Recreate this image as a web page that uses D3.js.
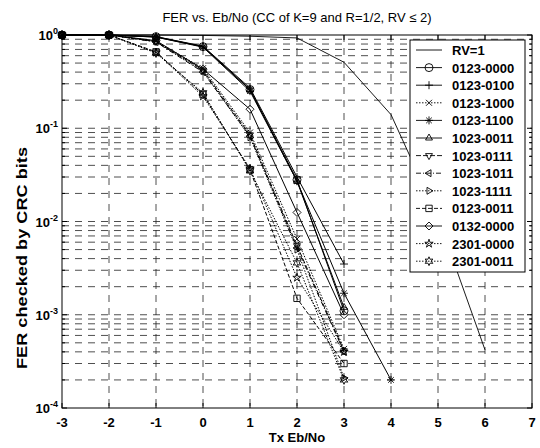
<!DOCTYPE html>
<html>
<head>
<meta charset="utf-8">
<script src="https://cdn.jsdelivr.net/npm/d3@7"></script>
<style>
  body { margin: 0; background: #fff; }
  svg { font-family: "Liberation Sans", Arial, sans-serif; }
</style>
</head>
<body>
<svg id="chart" width="540" height="448"></svg>
<script>
// Eb/No points and FER values
var xRv1 = [-3, -2, -1, 0, 1, 2, 3, 4, 5, 6];
var rv1 = [1, 1, 1, 0.99, 0.97, 0.93, 0.51, 0.14, 0.011, 4.2e-4];

var xs = [-3, -2, -1, 0, 1, 2, 3];
var xs4 = [-3, -2, -1, 0, 1, 2, 3, 4];

var s0123_0000 = [1, 1, 0.96, 0.75, 0.26, 0.028, 1.1e-3];
var s0123_0100 = [1, 1, 0.96, 0.76, 0.27, 0.030, 3.5e-3];
var s0123_1000 = [1, 1, 0.86, 0.44, 0.09, 0.0065, 4.3e-4];
var s0123_1100 = [1, 1, 0.95, 0.74, 0.25, 0.027, 1.7e-3, 2.0e-4];
var s1023_0011 = [1, 1, 0.95, 0.75, 0.26, 0.027, 1.2e-3];
var s1023_0111 = [1, 1, 0.85, 0.42, 0.085, 0.0055, 4.1e-4];
var s1023_1011 = [1, 1, 0.84, 0.40, 0.082, 0.0052, 4.0e-4];
var s1023_1111 = [1, 1, 0.85, 0.41, 0.08, 0.005, 2.1e-4];
var s0123_0011 = [1, 1, 0.66, 0.23, 0.036, 1.5e-3, 3.0e-4];
var s0132_0000 = [1, 1, 0.87, 0.43, 0.16, 0.0125, 1.0e-3];
var s2301_0000 = [1, 1, 0.65, 0.22, 0.037, 2.5e-3, 4.0e-4];
var s2301_0011 = [1, 1, 0.64, 0.24, 0.035, 3.6e-3, 2.0e-4];

var xTicks = [-3, -2, -1, 0, 1, 2, 3, 4, 5, 6, 7];
var yTickExp = [0, -1, -2, -3, -4];

var series = [
  {name: "RV=1", x: xRv1, y: rv1, marker: null, dash: null},
  {name: "0123-0000", x: xs, y: s0123_0000, marker: "circle", dash: null},
  {name: "0123-0100", x: xs, y: s0123_0100, marker: "plus", dash: null},
  {name: "0123-1000", x: xs, y: s0123_1000, marker: "x", dash: "1.5,1.5"},
  {name: "0123-1100", x: xs4, y: s0123_1100, marker: "asterisk", dash: null},
  {name: "1023-0011", x: xs, y: s1023_0011, marker: "triup", dash: null},
  {name: "1023-0111", x: xs, y: s1023_0111, marker: "tridown", dash: "5,2"},
  {name: "1023-1011", x: xs, y: s1023_1011, marker: "trileft", dash: "5,2,1,2"},
  {name: "1023-1111", x: xs, y: s1023_1111, marker: "triright", dash: "1.5,1.5"},
  {name: "0123-0011", x: xs, y: s0123_0011, marker: "square", dash: "4,2"},
  {name: "0132-0000", x: xs, y: s0132_0000, marker: "diamond", dash: null},
  {name: "2301-0000", x: xs, y: s2301_0000, marker: "pentagram", dash: "1.5,1.5"},
  {name: "2301-0011", x: xs, y: s2301_0011, marker: "hexagram", dash: "1.5,1.5"}
];

var svg = d3.select("#chart"),
    margin = {top: 35, right: 8, bottom: 40, left: 62},
    width = +svg.attr("width") - margin.left - margin.right,
    height = +svg.attr("height") - margin.top - margin.bottom;

var x = d3.scaleLinear().domain([-3, 7]).range([margin.left, margin.left + width]);
var y = d3.scaleLog().domain([1e-4, 1]).range([margin.top + height, margin.top]);

// grid
var grid = svg.append("g").attr("stroke", "#222").attr("stroke-width", 0.8)
  .attr("stroke-dasharray", "7,6").attr("fill", "none");
xTicks.slice(1, -1).forEach(function(t) {
  grid.append("line").attr("x1", x(t)).attr("x2", x(t))
    .attr("y1", y(1)).attr("y2", y(1e-4));
});
var yGrid = [];
for (var e = -4; e < 0; e++) {
  for (var m = 1; m < 10; m++) {
    if (e === -4 && m === 1) continue;
    yGrid.push(m * Math.pow(10, e));
  }
}
yGrid.forEach(function(v) {
  grid.append("line").attr("x1", x(-3)).attr("x2", x(7))
    .attr("y1", y(v)).attr("y2", y(v));
});

// axes box and ticks
var axes = svg.append("g").attr("stroke", "#000").attr("stroke-width", 1).attr("fill", "none");
axes.append("rect").attr("x", x(-3)).attr("y", y(1))
  .attr("width", x(7) - x(-3)).attr("height", y(1e-4) - y(1));
xTicks.forEach(function(t) {
  axes.append("line").attr("x1", x(t)).attr("x2", x(t)).attr("y1", y(1e-4)).attr("y2", y(1e-4) - 5);
  axes.append("line").attr("x1", x(t)).attr("x2", x(t)).attr("y1", y(1)).attr("y2", y(1) + 5);
});
yGrid.concat([1, 1e-4]).forEach(function(v) {
  var major = Math.abs(Math.log10(v) - Math.round(Math.log10(v))) < 1e-9;
  var len = major ? 5 : 3;
  axes.append("line").attr("x1", x(-3)).attr("x2", x(-3) + len).attr("y1", y(v)).attr("y2", y(v));
  axes.append("line").attr("x1", x(7)).attr("x2", x(7) - len).attr("y1", y(v)).attr("y2", y(v));
});

// tick labels
svg.append("g").selectAll("text").data(xTicks).enter().append("text")
  .attr("x", function(d) { return x(d); })
  .attr("y", 427)
  .attr("text-anchor", "middle")
  .attr("font-size", 13).attr("font-weight", "bold")
  .text(function(d) { return d; });

var yl = svg.append("g").selectAll("text").data(yTickExp).enter().append("text")
  .attr("x", 58)
  .attr("y", function(d) { return y(Math.pow(10, d)) + 5; })
  .attr("text-anchor", "end")
  .attr("font-size", 13).attr("font-weight", "bold");
yl.append("tspan").text("10");
yl.append("tspan").attr("dy", -6).attr("font-size", 9).text(function(d) { return d === 0 ? "0" : "-" + (-d); });

// titles
svg.append("text").attr("x", (x(-3) + x(7)) / 2).attr("y", 22)
  .attr("text-anchor", "middle").attr("font-size", 13)
  .text("FER vs. Eb/No (CC of K=9 and R=1/2, RV \u2264 2)");
svg.append("text").attr("x", (x(-3) + x(7)) / 2).attr("y", 442)
  .attr("text-anchor", "middle").attr("font-size", 13).attr("font-weight", "bold")
  .text("Tx Eb/No");
svg.append("text").attr("transform", "translate(27,258) rotate(-90)")
  .attr("text-anchor", "middle").attr("font-size", 14).attr("font-weight", "bold")
  .attr("textLength", 222).attr("lengthAdjust", "spacingAndGlyphs")
  .text("FER checked by CRC bits");

// marker paths, unfilled like matlab
function markerPath(type, r) {
  var p = d3.path(), i, a;
  if (type === "circle") { p.moveTo(r, 0); p.arc(0, 0, r, 0, 2 * Math.PI); }
  else if (type === "plus") { p.moveTo(-r, 0); p.lineTo(r, 0); p.moveTo(0, -r); p.lineTo(0, r); }
  else if (type === "x") { var q = r * 0.75; p.moveTo(-q, -q); p.lineTo(q, q); p.moveTo(-q, q); p.lineTo(q, -q); }
  else if (type === "asterisk") {
    p.moveTo(-r, 0); p.lineTo(r, 0); p.moveTo(0, -r); p.lineTo(0, r);
    var k = r * 0.7; p.moveTo(-k, -k); p.lineTo(k, k); p.moveTo(-k, k); p.lineTo(k, -k);
  }
  else if (type === "square") { p.rect(-r * 0.8, -r * 0.8, r * 1.6, r * 1.6); }
  else if (type === "diamond") { p.moveTo(0, -r); p.lineTo(r, 0); p.lineTo(0, r); p.lineTo(-r, 0); p.closePath(); }
  else if (type.indexOf("tri") === 0) {
    var rot = {triup: 0, triright: 90, tridown: 180, trileft: 270}[type] * Math.PI / 180;
    for (i = 0; i < 3; i++) {
      a = rot - Math.PI / 2 + i * 2 * Math.PI / 3;
      if (i === 0) p.moveTo(r * Math.cos(a), r * Math.sin(a)); else p.lineTo(r * Math.cos(a), r * Math.sin(a));
    }
    p.closePath();
  }
  else if (type === "pentagram" || type === "hexagram") {
    var n = type === "pentagram" ? 5 : 6, ri = type === "pentagram" ? r * 0.4 : r * 0.55;
    for (i = 0; i < 2 * n; i++) {
      a = -Math.PI / 2 + i * Math.PI / n;
      var rr = i % 2 ? ri : r * 1.1;
      if (i === 0) p.moveTo(rr * Math.cos(a), rr * Math.sin(a)); else p.lineTo(rr * Math.cos(a), rr * Math.sin(a));
    }
    p.closePath();
  }
  return p.toString();
}

var line = d3.line().x(function(d) { return x(d[0]); }).y(function(d) { return y(d[1]); });

var plot = svg.append("g");
series.forEach(function(s) {
  var pts = s.x.map(function(v, i) { return [v, s.y[i]]; });
  plot.append("path").datum(pts)
    .attr("d", line)
    .attr("fill", "none").attr("stroke", "#000")
    .attr("stroke-width", s.marker ? 1 : 0.9)
    .attr("stroke-dasharray", s.dash);
  if (s.marker) {
    plot.selectAll(null).data(pts).enter().append("path")
      .attr("transform", function(d) { return "translate(" + x(d[0]) + "," + y(d[1]) + ")"; })
      .attr("d", markerPath(s.marker, 4))
      .attr("fill", "none").attr("stroke", "#000").attr("stroke-width", 0.9);
  }
});

// legend
var lg = svg.append("g").attr("transform", "translate(410,40)");
lg.append("rect").attr("width", 115).attr("height", 232)
  .attr("fill", "#fff").attr("stroke", "#000").attr("stroke-width", 1);
series.forEach(function(s, i) {
  var yy = 10 + i * 17.6;
  lg.append("line").attr("x1", 6).attr("x2", 32).attr("y1", yy).attr("y2", yy)
    .attr("stroke", "#000").attr("stroke-width", 0.9).attr("stroke-dasharray", s.dash);
  if (s.marker) {
    lg.append("path").attr("transform", "translate(19," + yy + ")")
      .attr("d", markerPath(s.marker, 4)).attr("fill", "none").attr("stroke", "#000").attr("stroke-width", 0.9);
  }
  lg.append("text").attr("x", 42).attr("y", yy + 5)
    .attr("font-size", 13).attr("font-weight", "bold").text(s.name);
});
</script>
</body>
</html>
